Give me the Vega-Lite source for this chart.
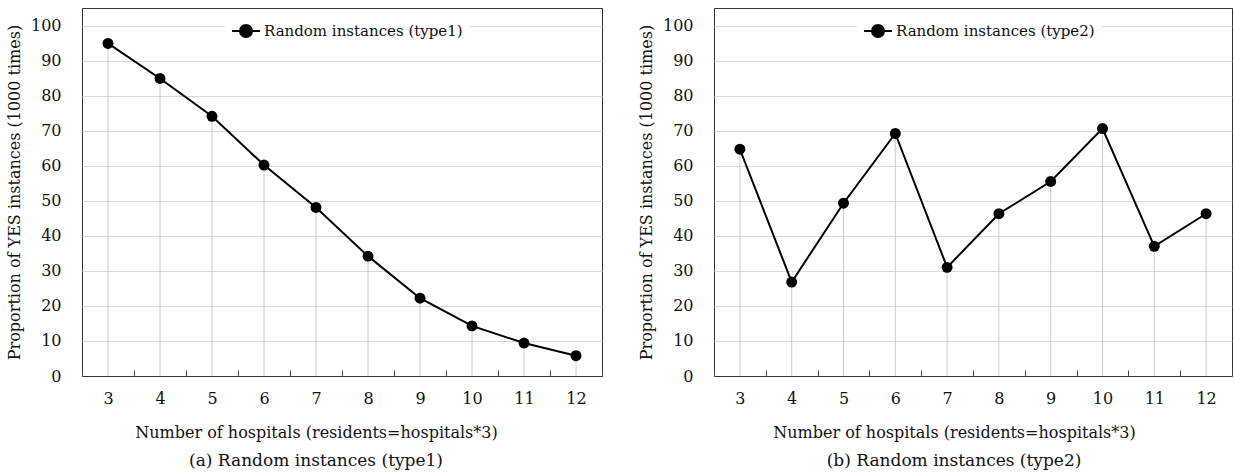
{
  "$schema": "https://vega.github.io/schema/vega-lite/v6.json",
  "padding": {"left": 5, "top": 7, "right": 0, "bottom": 0},
  "background": "white",
  "spacing": 34,
  "config": {
    "font": "DejaVu Serif",
    "view": {"stroke": "#333333", "strokeWidth": 1},
    "axis": {"labelFont": "DejaVu Serif", "titleFont": "DejaVu Serif", "labelFontSize": 16, "titleFontSize": 16, "labelColor": "#111", "titleColor": "#111", "titleFontWeight": "normal"},
    "legend": {"labelFont": "DejaVu Serif", "labelFontSize": 15, "labelColor": "#111", "labelLimit": 400},
    "title": {"font": "DejaVu Serif", "fontSize": 17, "fontWeight": "normal", "color": "#111"}
  },
  "datasets": {
    "type1": [
      {"n": 3, "value": 94.9, "series": "Random instances (type1)"},
      {"n": 4, "value": 84.9, "series": "Random instances (type1)"},
      {"n": 5, "value": 74.1, "series": "Random instances (type1)"},
      {"n": 6, "value": 60.2, "series": "Random instances (type1)"},
      {"n": 7, "value": 48.1, "series": "Random instances (type1)"},
      {"n": 8, "value": 34.2, "series": "Random instances (type1)"},
      {"n": 9, "value": 22.2, "series": "Random instances (type1)"},
      {"n": 10, "value": 14.3, "series": "Random instances (type1)"},
      {"n": 11, "value": 9.4, "series": "Random instances (type1)"},
      {"n": 12, "value": 5.8, "series": "Random instances (type1)"}
    ],
    "type2": [
      {"n": 3, "value": 64.7, "series": "Random instances (type2)"},
      {"n": 4, "value": 26.8, "series": "Random instances (type2)"},
      {"n": 5, "value": 49.3, "series": "Random instances (type2)"},
      {"n": 6, "value": 69.2, "series": "Random instances (type2)"},
      {"n": 7, "value": 31.0, "series": "Random instances (type2)"},
      {"n": 8, "value": 46.3, "series": "Random instances (type2)"},
      {"n": 9, "value": 55.5, "series": "Random instances (type2)"},
      {"n": 10, "value": 70.6, "series": "Random instances (type2)"},
      {"n": 11, "value": 37.0, "series": "Random instances (type2)"},
      {"n": 12, "value": 46.3, "series": "Random instances (type2)"}
    ]
  },
  "hconcat": [
    {
      "width": 520,
      "height": 368,
      "title": {"text": "(a) Random instances (type1)", "orient": "bottom", "offset": 13, "dx": -26},
      "data": {"name": "type1"},
      "encoding": {
        "x": {"field": "n", "type": "ordinal", "title": "Number of hospitals (residents=hospitals*3)",
          "axis": {"labelAngle": 0, "tickBand": "extent", "tickSize": -6, "tickColor": "#444", "domainColor": "#333", "labelPadding": 20, "titlePadding": 18, "titleX": 234, "grid": false}},
        "y": {"field": "value", "type": "quantitative", "scale": {"domain": [0, 105], "nice": false}, "title": "Proportion  of  YES instances (1000 times)",
          "axis": {"values": [0, 10, 20, 30, 40, 50, 60, 70, 80, 90, 100], "labelOverlap": false, "grid": true, "gridColor": "#d9d9d9", "ticks": false, "domain": false, "labelPadding": 21, "titlePadding": 8}}
      },
      "layer": [
        {
          "mark": {"type": "rule", "color": "#cccccc", "strokeWidth": 1},
          "encoding": {"y2": {"datum": 0}}
        },
        {
          "mark": {"type": "line", "strokeWidth": 2},
          "encoding": {
            "color": {"field": "series", "type": "nominal", "scale": {"range": ["black"]},
              "legend": {"title": null, "orient": "none", "legendX": 143, "legendY": 2, "fillColor": "white", "padding": 6,
                "symbolType": "M-1,0H1M-0.43,0A0.43,0.43,0,1,1,0.43,0A0.43,0.43,0,1,1,-0.43,0Z", "symbolSize": 784, "symbolStrokeWidth": 2, "symbolFillColor": "black", "symbolStrokeColor": "black", "labelOffset": 3}}
          }
        },
        {
          "mark": {"type": "point", "filled": true, "size": 120, "opacity": 1},
          "encoding": {"color": {"field": "series", "type": "nominal"}}
        }
      ]
    },
    {
      "width": 518,
      "height": 368,
      "title": {"text": "(b) Random instances (type2)", "orient": "bottom", "offset": 13, "dx": -19},
      "data": {"name": "type2"},
      "encoding": {
        "x": {"field": "n", "type": "ordinal", "title": "Number of hospitals (residents=hospitals*3)",
          "axis": {"labelAngle": 0, "tickBand": "extent", "tickSize": -6, "tickColor": "#444", "domainColor": "#333", "labelPadding": 20, "titlePadding": 18, "titleX": 240, "grid": false}},
        "y": {"field": "value", "type": "quantitative", "scale": {"domain": [0, 105], "nice": false}, "title": "Proportion  of  YES instances (1000 times)",
          "axis": {"values": [0, 10, 20, 30, 40, 50, 60, 70, 80, 90, 100], "labelOverlap": false, "grid": true, "gridColor": "#d9d9d9", "ticks": false, "domain": false, "labelPadding": 21, "titlePadding": 8}}
      },
      "layer": [
        {
          "mark": {"type": "rule", "color": "#cccccc", "strokeWidth": 1},
          "encoding": {"y2": {"datum": 0}}
        },
        {
          "mark": {"type": "line", "strokeWidth": 2},
          "encoding": {
            "color": {"field": "series", "type": "nominal", "scale": {"range": ["black"]},
              "legend": {"title": null, "orient": "none", "legendX": 143, "legendY": 2, "fillColor": "white", "padding": 6,
                "symbolType": "M-1,0H1M-0.43,0A0.43,0.43,0,1,1,0.43,0A0.43,0.43,0,1,1,-0.43,0Z", "symbolSize": 784, "symbolStrokeWidth": 2, "symbolFillColor": "black", "symbolStrokeColor": "black", "labelOffset": 3}}
          }
        },
        {
          "mark": {"type": "point", "filled": true, "size": 120, "opacity": 1},
          "encoding": {"color": {"field": "series", "type": "nominal"}}
        }
      ]
    }
  ],
  "resolve": {"scale": {"color": "independent"}, "legend": {"color": "independent"}}
}
